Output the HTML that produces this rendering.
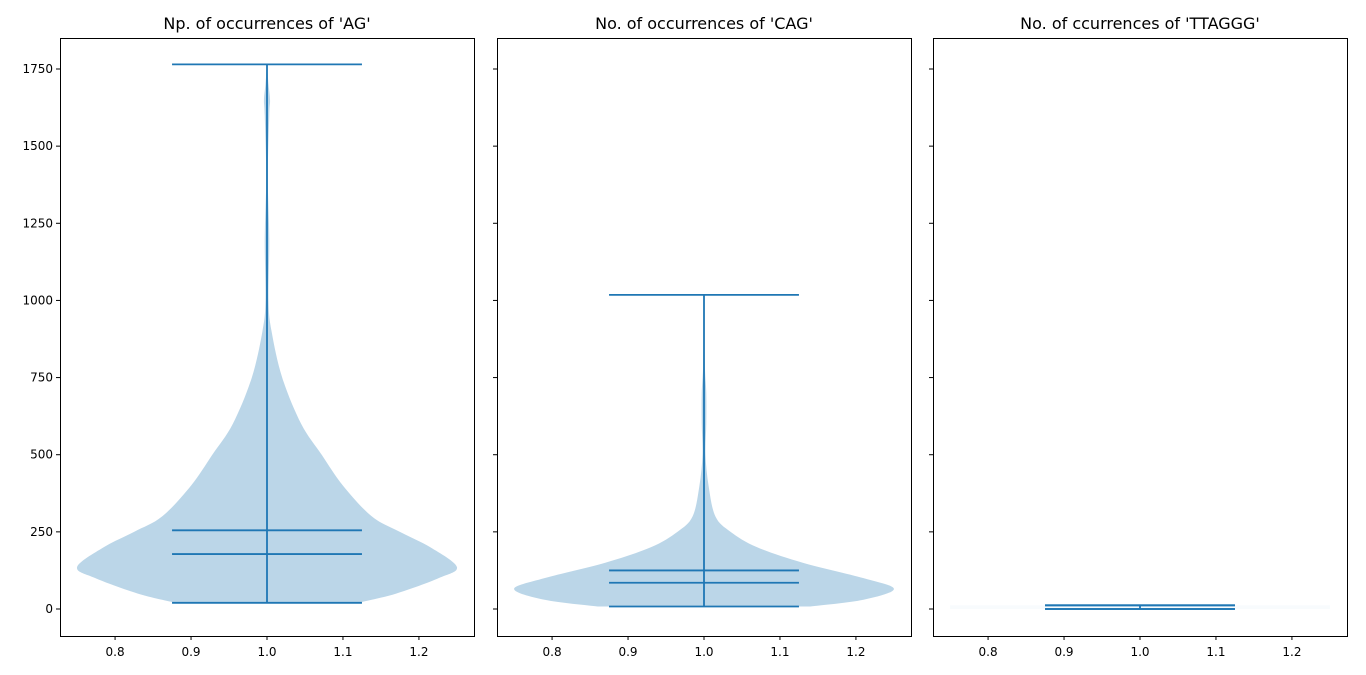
<!DOCTYPE html>
<html><head><meta charset="utf-8"><style>
body{margin:0;background:#fff;}
svg{display:block;font-family:"DejaVu Sans","Liberation Sans",sans-serif;}
</style></head><body>
<svg id="chart" width="1366" height="675"></svg>
<script>
const titles = ["Np. of occurrences of 'AG'", "No. of occurrences of 'CAG'", "No. of ccurrences of 'TTAGGG'"];
const yTicks = [0, 250, 500, 750, 1000, 1250, 1500, 1750];
const xTicks = [0.8, 0.9, 1.0, 1.1, 1.2];
const agVals = [20, 50, 100, 136, 200, 250, 300, 400, 500, 600, 750, 900, 1000, 1200, 1400, 1600, 1650, 1700, 1765];
const agWidth = [0.12, 0.17, 0.226, 0.25, 0.215, 0.175, 0.138, 0.1, 0.072, 0.045, 0.02, 0.006, 0.002, 0.003, 0.001, 0.003, 0.004, 0.002, 0];
const cagVals = [8, 30, 65, 100, 150, 200, 250, 300, 400, 500, 600, 700, 800, 1018];
const cagWidth = [0.14, 0.21, 0.25, 0.21, 0.13, 0.07, 0.035, 0.015, 0.006, 0.002, 0.003, 0.003, 0.001, 0];
const ttVals = [0, 2, 6, 12];
const ttWidth = [0.25, 0.25, 0.25, 0.25];
const stats = [ {min:20, max:1765, mean:255, median:178}, {min:8, max:1018, mean:125, median:85}, {min:0, max:12, mean:12, median:0} ];
const panels = [[agVals, agWidth, 0.3],[cagVals, cagWidth, 0.3],[ttVals, ttWidth, 0.03]];
const lefts = [60, 497, 933];
const W = 414, topY = 38, botY = 636;
const NS = "http://www.w3.org/2000/svg";
const svg = document.getElementById('chart');
function el(t, a, p){const e=document.createElementNS(NS,t);for(const k in a)e.setAttribute(k,a[k]);(p||svg).appendChild(e);return e;}
const yS = v => 609 - v * (540/1750);
function smooth(pts){
  let d = 'M' + pts[0][0] + ' ' + pts[0][1];
  for (let i = 0; i < pts.length-1; i++) {
    const p0 = pts[Math.max(0,i-1)], p1 = pts[i], p2 = pts[i+1], p3 = pts[Math.min(pts.length-1,i+2)];
    const c1 = [p1[0]+(p2[0]-p0[0])/6, p1[1]+(p2[1]-p0[1])/6];
    const c2 = [p2[0]-(p3[0]-p1[0])/6, p2[1]-(p3[1]-p1[1])/6];
    d += ' C' + c1[0] + ' ' + c1[1] + ' ' + c2[0] + ' ' + c2[1] + ' ' + p2[0] + ' ' + p2[1];
  }
  return d;
}
for (let p = 0; p < 3; p++) {
  const L = lefts[p];
  const xS = v => L + (v - 0.7275) / 0.545 * W;
  const g = el('g', {});
  
  
  const [vals, wid, op] = panels[p];
  const right = vals.map((v,i)=>[xS(1+wid[i]), yS(v)]);
  const left = vals.map((v,i)=>[xS(1-wid[i]), yS(v)]).reverse();
  const d = smooth(right) + ' L' + left[0][0] + ' ' + left[0][1] + ' ' + smooth(left).slice(1).replace(/^[^C]*/, '') + ' Z';
  const body = el('path', {d: d, fill:'#1f77b4', 'fill-opacity': op}, g);
  
  
  const s = stats[p];
  const vl = el('line', {x1:xS(1), x2:xS(1), y1:yS(s.min), y2:yS(s.max), stroke:'#1f77b4', 'stroke-width':1.8}, g);
  
  
  ['min','max','mean','median'].forEach(k=>{
    const ln = el('line', {x1:xS(0.875), x2:xS(1.125), y1:yS(s[k]), y2:yS(s[k]), stroke:'#1f77b4', 'stroke-width':1.8}, g);
    
    
  });
  const fr = el('rect', {x:L+0.5, y:topY+0.5, width:W, height:botY-topY, fill:'none', stroke:'#000', 'stroke-width':1}, g);
  
  
  const t = el('text', {x:L+W/2, y:29, 'text-anchor':'middle', 'font-size':16}, g);
  t.textContent = titles[p];
  
  
  xTicks.forEach(v=>{
    el('line', {x1:xS(v), x2:xS(v), y1:botY, y2:botY+4, stroke:'#000'}, g);
    const tx = el('text', {x:xS(v), y:botY+20, 'text-anchor':'middle', 'font-size':12}, g);
    tx.textContent = v.toFixed(1);
    
    
  });
  yTicks.forEach(v=>{
    el('line', {x1:L-4, x2:L, y1:yS(v), y2:yS(v), stroke:'#000'}, g);
    if (p === 0) {
      const ty = el('text', {x:L-7, y:yS(v)+4, 'text-anchor':'end', 'font-size':12}, g);
      ty.textContent = v;
      
      
    }
  });
}
</script>
</body></html>
